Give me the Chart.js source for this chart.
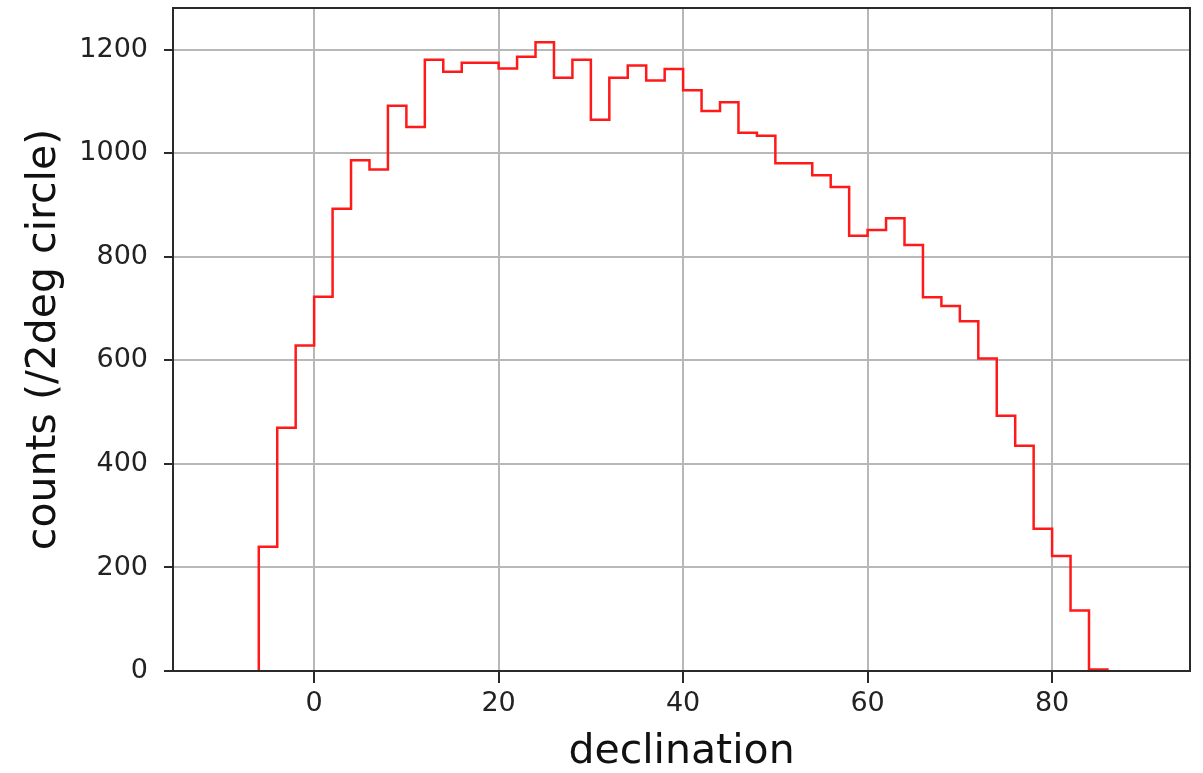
<!DOCTYPE html>
<html>
<head>
<meta charset="utf-8">
<script src="https://cdn.jsdelivr.net/npm/chart.js@4"></script>
<style>
    html, body { margin: 0; padding: 0; background: #ffffff; }
    #wrap { width: 1203px; height: 773px; position: relative; }
</style>
</head>
<body>
<div id="wrap"><canvas id="histChart"></canvas></div>
<script>
// ===== Data =====

// left edge of each 2-degree bin
const binEdges = [
    -6, -4, -2, 0, 2, 4, 6, 8, 10, 12, 14, 16, 18, 20, 22, 24, 26, 28, 30, 32, 34, 36, 38,
    40, 42, 44, 46, 48, 50, 52, 54, 56, 58, 60, 62, 64, 66, 68, 70, 72, 74, 76, 78, 80, 82, 84
];
const binEnd = 86;

const counts = [
    240, 470, 629, 723, 893, 987, 969, 1092, 1051, 1181, 1158, 1175, 1175, 1164, 1187, 1215,
    1146, 1181, 1065, 1146, 1170, 1141, 1163, 1122, 1082, 1099, 1040, 1034, 981, 981, 958, 935,
    841, 852, 875, 823, 722, 705, 676, 604, 493, 435, 275, 222, 117, 3
];

const xTicks = [0, 20, 40, 60, 80];
const yTicks = [0, 200, 400, 600, 800, 1000, 1200];

// ===== Style =====

const FONT = "'DejaVu Sans', sans-serif";
const TEXT_COLOR = '#222222';
const GRID_COLOR = '#b8b8b8';
const FRAME_COLOR = '#2a2a2a';

// step outline: start on the baseline, hold each count over its bin, drop at the end
const stepPoints = [{ x: binEdges[0], y: 0 }]
    .concat(counts.map((c, i) => ({ x: binEdges[i], y: c })))
    .concat([{ x: binEnd, y: 0 }]);

// matplotlib-like box around the axes
const frameBox = {
    id: 'frameBox',
    afterDraw(chart) {
        const { ctx, chartArea: a } = chart;
        ctx.save();
        ctx.strokeStyle = FRAME_COLOR;
        ctx.lineWidth = 2;
        ctx.strokeRect(a.left, a.top, a.right - a.left, a.bottom - a.top);
        ctx.restore();
    }
};

const ctx = document.getElementById('histChart').getContext('2d');

new Chart(ctx, {
    type: 'line',
    data: {
        datasets: [{
            data: stepPoints,
            stepped: true,
            borderColor: '#ff1a1a',
            borderWidth: 2.5,
            pointRadius: 0,
            fill: false
        }]
    },
    options: {
        responsive: true,
        maintainAspectRatio: false,
        animation: false,
        layout: { padding: { top: 8, right: 13, bottom: 0, left: 0 } },
        plugins: {
            legend: { display: false },
            tooltip: { enabled: false }
        },
        scales: {
            x: {
                type: 'linear',
                min: -15.3,
                max: 94.95,
                afterBuildTicks: axis => { axis.ticks = xTicks.map(v => ({ value: v })); },
                afterFit: scale => {
                    scale.height = 102;
                    scale.paddingLeft = 0;
                    scale.paddingRight = 0;
                },
                grid: {
                    color: GRID_COLOR,
                    lineWidth: 2,
                    tickColor: FRAME_COLOR,
                    tickLength: 12,
                    tickWidth: 2
                },
                border: { display: true, color: FRAME_COLOR, width: 2 },
                ticks: {
                    color: TEXT_COLOR,
                    font: { family: FONT, size: 27 },
                    padding: 5,
                    maxRotation: 0,
                    callback: v => String(v)
                },
                title: {
                    display: true,
                    text: 'declination',
                    color: '#111111',
                    font: { family: FONT, size: 41, lineHeight: 1 },
                    padding: { top: 0, bottom: 0 }
                }
            },
            y: {
                min: 0,
                max: 1281,
                afterBuildTicks: axis => { axis.ticks = yTicks.map(v => ({ value: v })); },
                afterFit: scale => {
                    scale.width = 173;
                    scale.paddingTop = 0;
                    scale.paddingBottom = 0;
                },
                grid: {
                    color: GRID_COLOR,
                    lineWidth: 2,
                    tickColor: FRAME_COLOR,
                    tickLength: 9,
                    tickWidth: 2
                },
                border: { display: true, color: FRAME_COLOR, width: 2 },
                ticks: {
                    color: TEXT_COLOR,
                    font: { family: FONT, size: 27 },
                    padding: 16,
                    callback: v => String(v)
                },
                title: {
                    display: true,
                    text: 'counts (/2deg circle)',
                    color: '#111111',
                    font: { family: FONT, size: 41, lineHeight: 1 },
                    padding: { top: 24, bottom: 0 }
                }
            }
        }
    },
    plugins: [frameBox]
});
</script>
</body>
</html>
